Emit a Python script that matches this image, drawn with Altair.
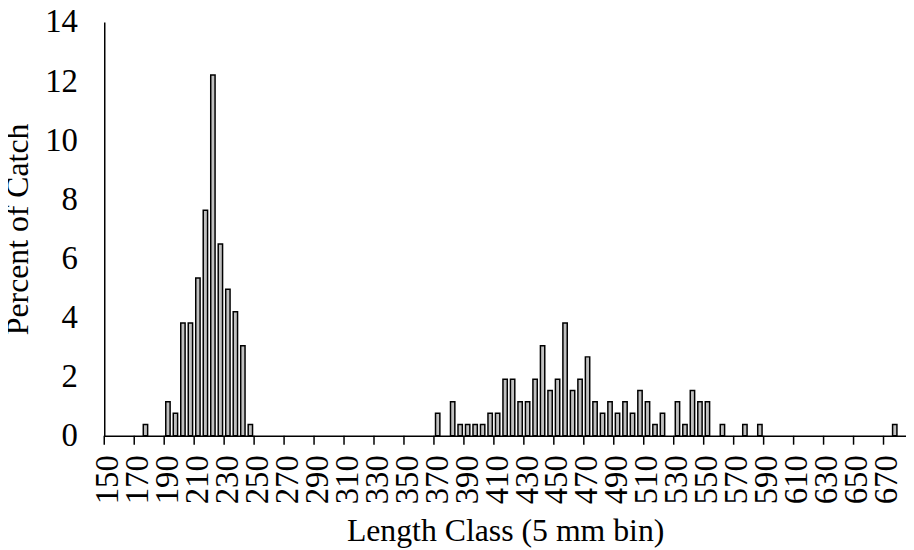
import altair as alt
import pandas as pd

# Category axis: 5 mm length classes
length_classes = list(range(150, 685, 5))
tick_labels = list(range(150, 671, 20))
y_ticks = [0, 2, 4, 6, 8, 10, 12, 14]

# Non-zero length classes and their percent of catch
bar_lengths = [175, 190, 195, 200, 205, 210, 215, 220, 225, 230, 235, 240, 245,
               370, 380, 385, 390, 395, 400, 405, 410, 415, 420, 425, 430, 435,
               440, 445, 450, 455, 460, 465, 470, 475, 480, 485, 490, 495, 500,
               505, 510, 515, 520, 530, 535, 540, 545, 550, 560, 575, 585, 675]
bar_percents = [0.38, 1.15, 0.76, 3.82, 3.82, 5.34, 7.63, 12.21, 6.49, 4.96, 4.20, 3.05, 0.38,
                0.76, 1.15, 0.38, 0.38, 0.38, 0.38, 0.76, 0.76, 1.91, 1.91, 1.15, 1.15, 1.91,
                3.05, 1.53, 1.91, 3.82, 1.53, 1.91, 2.67, 1.15, 0.76, 1.15, 0.76, 1.15, 0.76,
                1.53, 1.15, 0.38, 0.76, 1.15, 0.38, 1.53, 1.15, 1.15, 0.38, 0.38, 0.38, 0.38]

bars_df = pd.DataFrame({"length": bar_lengths, "pct": bar_percents})
ticks_df = pd.DataFrame({"length": tick_labels})

FONT = "Liberation Serif"

x_scale = alt.Scale(domain=length_classes, paddingInner=0, paddingOuter=0)
x_axis = alt.Axis(values=tick_labels, labelAngle=-90, ticks=False, tickSize=0,
                  labelPadding=19, title="Length Class (5 mm bin)", titlePadding=12,
                  grid=False)

bars = alt.Chart(bars_df).mark_bar(
    width=alt.RelativeBandSize(0.58), color="#c0c0c0", stroke="black", strokeWidth=1.5
).encode(
    x=alt.X("length:O", scale=x_scale, axis=x_axis),
    y=alt.Y("pct:Q", scale=alt.Scale(domain=[0, 14], nice=False),
            axis=alt.Axis(values=y_ticks, ticks=False, tickSize=0, grid=False,
                          labelPadding=27, title="Percent of Catch", titlePadding=10)),
)

ticks = alt.Chart(ticks_df).mark_rule(color="black", strokeWidth=1.5).encode(
    x=alt.X("length:O", bandPosition=0, scale=x_scale, axis=x_axis),
    y=alt.value(417),
    y2=alt.value(426),
)

chart = alt.layer(bars, ticks).properties(
    width=808, height=417,
    autosize=alt.AutoSizeParams(type="none"),
    padding={"left": 97, "top": 12, "right": 0, "bottom": 115},
).configure_view(stroke=None).configure_axis(
    labelFont=FONT, titleFont=FONT, labelFontSize=33, titleFontSize=32,
    labelColor="black", titleColor="black", titleFontWeight="normal",
    domainColor="black", domainWidth=1.5,
)

chart.save("out.html", embed_options={"renderer": "svg", "actions": False})
